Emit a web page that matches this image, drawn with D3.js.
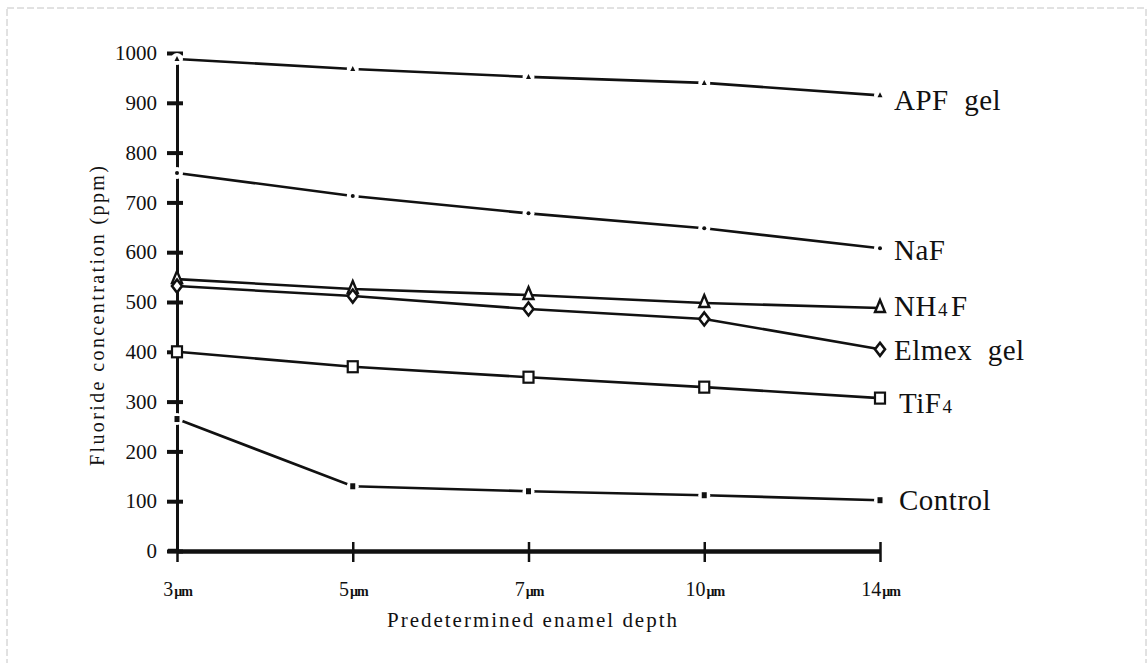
<!DOCTYPE html>
<html>
<head>
<meta charset="utf-8">
<script src="https://cdn.jsdelivr.net/npm/d3@7"></script>
<style>
  body { margin: 0; background: #fff; }
  svg text { font-family: "Liberation Serif", "DejaVu Serif", serif; fill: #111; }
</style>
</head>
<body>
<div id="chart"></div>
<script>
// depth categories and tick labels
const depths = ['3', '5', '7', '10', '14'];
const yTicks = [0, 100, 200, 300, 400, 500, 600, 700, 800, 900, 1000];

// fluoride concentration (ppm) per agent
const apfGel   = [988, 968, 952, 940, 915];
const naF      = [759, 713, 678, 648, 608];
const nh4F     = [546, 526, 514, 498, 488];
const elmexGel = [532, 512, 486, 466, 405];
const tiF4     = [400, 370, 349, 329, 307];
const control  = [265, 130, 120, 112, 102];

const series = [
  { name: 'APF gel',   values: apfGel,   marker: 'tinyTri',    dy: 15 },
  { name: 'NaF',       values: naF,      marker: 'dot',        dy: 12 },
  { name: 'NH4F',      values: nh4F,     marker: 'triangle',   dy: 8 },
  { name: 'Elmex gel', values: elmexGel, marker: 'diamond',    dy: 11 },
  { name: 'TiF4',      values: tiF4,     marker: 'square',     dy: 15 },
  { name: 'Control',   values: control,  marker: 'tinySquare', dy: 10 }
];

const width = 1148, height = 663;
const svg = d3.select('#chart').append('svg')
  .attr('width', width)
  .attr('height', height);

// faint scan border
svg.append('rect')
  .attr('x', 7).attr('y', 8)
  .attr('width', 1139).attr('height', 660)
  .attr('fill', 'none')
  .attr('stroke', '#c4c4c4')
  .attr('stroke-width', 1)
  .attr('stroke-dasharray', '7,3');

const x = d3.scalePoint().domain(depths).range([177, 880]);
const y = d3.scaleLinear().domain([0, 1000]).range([551, 53]);

// y axis
const yAxis = svg.append('g')
  .attr('transform', `translate(${x(depths[0])},0)`)
  .call(d3.axisLeft(y).tickValues(yTicks).tickSize(0).tickPadding(20).tickFormat(d3.format('d')));
yAxis.select('.domain').attr('stroke', '#111').attr('stroke-width', 3);
yAxis.selectAll('.tick line')
  .attr('x1', -10).attr('x2', 6)
  .attr('stroke', '#111').attr('stroke-width', 4);
yAxis.selectAll('.tick text')
  .attr('font-size', 21)
  .attr('font-family', '"Liberation Serif", serif');

// x axis
const xAxis = svg.append('g')
  .attr('transform', `translate(0,${y(0)})`)
  .call(d3.axisBottom(x).tickSize(0).tickFormat(''));
xAxis.select('.domain').attr('stroke', '#111').attr('stroke-width', 4.5);
xAxis.selectAll('.tick line')
  .attr('y1', -9).attr('y2', 11)
  .attr('stroke', '#111').attr('stroke-width', 2.5);
xAxis.append('line')
  .attr('x1', 168).attr('x2', x(depths[0]))
  .attr('stroke', '#111').attr('stroke-width', 4.5);

const xLabels = xAxis.selectAll('.tick')
  .append('text')
  .attr('y', 45)
  .attr('text-anchor', 'middle')
  .attr('font-size', 20)
  .attr('font-family', '"Liberation Serif", serif');
xLabels.append('tspan').text(d => d);
xLabels.append('tspan')
  .attr('font-size', 14)
  .attr('font-weight', 'bold')
  .attr('letter-spacing', -1)
  .attr('dx', 1)
  .text('\u00b5m');

// axis titles
svg.append('text')
  .attr('transform', 'translate(104,316) rotate(-90)')
  .attr('text-anchor', 'middle')
  .attr('font-size', 20)
  .attr('textLength', 300)
  .attr('lengthAdjust', 'spacing')
  .text('Fluoride  concentration (ppm)');

svg.append('text')
  .attr('x', 532).attr('y', 627)
  .attr('text-anchor', 'middle')
  .attr('font-size', 21)
  .attr('textLength', 290)
  .attr('lengthAdjust', 'spacing')
  .text('Predetermined  enamel  depth');

const line = d3.line()
  .x((d, i) => x(depths[i]))
  .y(d => y(d));

const lines = svg.append('g').attr('class', 'lines');

series.forEach(s => {
  const g = lines.append('g');
  g.append('path')
    .datum(s.values)
    .attr('d', line)
    .attr('fill', 'none')
    .attr('stroke', '#111')
    .attr('stroke-width', 2.6);

  const pts = g.selectAll('g.pt')
    .data(s.values)
    .enter()
    .append('g')
    .attr('class', 'pt')
    .attr('transform', (d, i) => `translate(${x(depths[i])},${y(d)})`);

  if (s.marker === 'tinyTri' || s.marker === 'dot' || s.marker === 'tinySquare') {
    // small white gap with a tiny mark in it
    pts.append('circle').attr('r', 6).attr('fill', '#fff');
    if (s.marker === 'tinyTri') {
      pts.append('path').attr('d', 'M0,-3 L2.5,2 L-2.5,2 Z').attr('fill', '#111');
    } else if (s.marker === 'dot') {
      pts.append('circle').attr('r', 2).attr('fill', '#111');
    } else {
      pts.append('rect').attr('x', -2.5).attr('y', -3)
        .attr('width', 5).attr('height', 6).attr('fill', '#111');
    }
  } else if (s.marker === 'triangle') {
    pts.append('path').attr('d', 'M0,-8 L5,4 L-5,4 Z')
      .attr('fill', '#fff').attr('stroke', '#111').attr('stroke-width', 2.4);
  } else if (s.marker === 'diamond') {
    pts.append('path').attr('d', 'M0,-6.5 L5,0 L0,6.5 L-5,0 Z')
      .attr('fill', '#fff').attr('stroke', '#111').attr('stroke-width', 2.6);
  } else if (s.marker === 'square') {
    pts.append('rect').attr('x', -5).attr('y', -5.5)
      .attr('width', 10).attr('height', 11)
      .attr('fill', '#fff').attr('stroke', '#111').attr('stroke-width', 2.2);
  }
});

// series labels at the right end
const labelX = x(depths[depths.length - 1]) + 14;

series.forEach(s => {
  const last = s.values[s.values.length - 1];
  const t = svg.append('text')
    .attr('x', labelX + (s.name === 'TiF4' || s.name === 'Control' ? 5 : 0))
    .attr('y', y(last) + s.dy)
    .attr('font-size', 29)
    .attr('letter-spacing', 0.5);
  const m = s.name.match(/^(.*?)(4)(.*)$/);
  if (m) {
    t.append('tspan').text(m[1]);
    t.append('tspan').attr('font-size', 19).attr('dx', 1).text(m[2]);
    if (m[3]) t.append('tspan').attr('dx', 3).text(m[3]);
  } else {
    t.text(s.name.replace(' ', '\u00a0\u00a0'));
  }
});
</script>
</body>
</html>
